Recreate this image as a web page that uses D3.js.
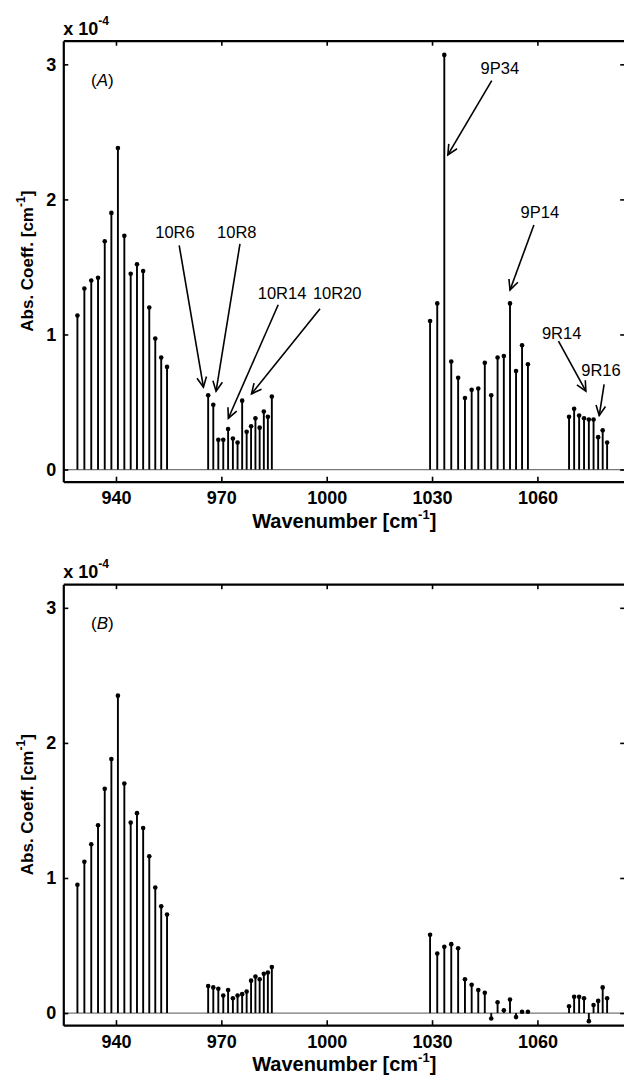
<!DOCTYPE html>
<html>
<head>
<meta charset="utf-8">
<script src="https://cdn.jsdelivr.net/npm/d3@7"></script>
<style>
  body { margin: 0; background: #fff; }
  svg { display: block; font-family: "Liberation Sans", Arial, sans-serif; }
</style>
</head>
<body>
<svg id="chart" width="624" height="1077"></svg>
<script>
// CO2 laser line positions (cm^-1)
const wn10P = [929.02, 931.00, 932.96, 934.89, 936.80, 938.69, 940.55, 942.38, 944.19, 945.98, 947.74, 949.48, 951.19, 952.88, 954.54]
const wn10R = [966.25, 967.71, 969.14, 970.55, 971.93, 973.29, 974.62, 975.93, 977.21, 978.47, 979.71, 980.91, 982.10, 983.25, 984.38]
const wn9P  = [1029.44, 1031.48, 1033.49, 1035.47, 1037.43, 1039.37, 1041.28, 1043.16, 1045.02, 1046.85, 1048.66, 1050.44, 1052.20, 1053.92, 1055.63, 1057.30]
const wn9R  = [1069.01, 1070.46, 1071.88, 1073.28, 1074.65, 1075.99, 1077.30, 1078.59, 1079.85]

// panel A, abs. coeff (x 1e-4 cm^-1)
const absA10P = [1.14, 1.34, 1.40, 1.42, 1.69, 1.90, 2.38, 1.73, 1.45, 1.52, 1.47, 1.20, 0.97, 0.83, 0.76]
const absA10R = [0.55, 0.48, 0.22, 0.22, 0.30, 0.23, 0.20, 0.51, 0.28, 0.32, 0.38, 0.31, 0.43, 0.39, 0.54]
const absA9P  = [1.10, 1.23, 3.07, 0.80, 0.68, 0.53, 0.59, 0.60, 0.79, 0.55, 0.83, 0.84, 1.23, 0.73, 0.92, 0.78]
const absA9R  = [0.39, 0.45, 0.40, 0.38, 0.37, 0.37, 0.24, 0.29, 0.20]

// panel B
const absB10P = [0.95, 1.12, 1.25, 1.39, 1.66, 1.88, 2.35, 1.70, 1.41, 1.48, 1.37, 1.16, 0.93, 0.79, 0.73]
const absB10R = [0.20, 0.19, 0.18, 0.13, 0.17, 0.11, 0.13, 0.14, 0.16, 0.24, 0.27, 0.25, 0.29, 0.30, 0.34]
const absB9P  = [0.58, 0.44, 0.49, 0.51, 0.48, 0.25, 0.21, 0.17, 0.15, -0.04, 0.08, 0.02, 0.10, -0.03, 0.01, 0.01]
const absB9R  = [0.05, 0.12, 0.12, 0.11, -0.06, 0.06, 0.09, 0.19, 0.11]

const xTicks = [940, 970, 1000, 1030, 1060]
const yTicks = [0, 1, 2, 3]

// arrow labels for panel A: text anchor, arrow tail, arrow head (data coords)
const labelsA = [
  { text: "10R6",  tx: 956.8,  ty: 1.76, x1: 958.0,  y1: 1.66, x2: 964.9,  y2: 0.61 },
  { text: "10R8",  tx: 974.4,  ty: 1.76, x1: 975.3,  y1: 1.67, x2: 968.5,  y2: 0.58 },
  { text: "10R14", tx: 987.3,  ty: 1.31, x1: 986.2,  y1: 1.22, x2: 972.0,  y2: 0.38 },
  { text: "10R20", tx: 1003.0, ty: 1.31, x1: 998.1,  y1: 1.19, x2: 978.6,  y2: 0.56 },
  { text: "9P34",  tx: 1049.3, ty: 2.97, x1: 1047.0, y1: 2.88, x2: 1034.5, y2: 2.33 },
  { text: "9P14",  tx: 1060.7, ty: 1.91, x1: 1059.0, y1: 1.81, x2: 1052.2, y2: 1.33 },
  { text: "9R14",  tx: 1066.9, ty: 1.01, x1: 1066.0, y1: 0.95, x2: 1073.8, y2: 0.58 },
  { text: "9R16",  tx: 1078.1, ty: 0.74, x1: 1079.0, y1: 0.63, x2: 1077.6, y2: 0.40 }
]

const svg = d3.select("#chart")
const x = d3.scaleLinear().domain([925, 1085]).range([63.3, 625.2])

function zip(wn, v) { return wn.map((w, i) => ({ wn: w, v: v[i] })) }

function drawPanel(top, data, tag, labels) {
  const y = d3.scaleLinear().domain([-0.09, 3.175]).range([top + 441, top])
  const g = svg.append("g")
  const x0 = x.range()[0], x1 = x.range()[1]
  const y0 = y.range()[0], y1 = y.range()[1]

  // zero line
  g.append("line")
    .attr("x1", x0).attr("x2", x1)
    .attr("y1", y(0)).attr("y2", y(0))
    .attr("stroke", "#777").attr("stroke-width", 1.2)

  // stems
  g.selectAll(".stem").data(data).join("line")
    .attr("x1", d => x(d.wn)).attr("x2", d => x(d.wn))
    .attr("y1", y(0)).attr("y2", d => y(d.v))
    .attr("stroke", "#000").attr("stroke-width", 1.9)
  g.selectAll(".dot").data(data).join("circle")
    .attr("cx", d => x(d.wn)).attr("cy", d => y(d.v))
    .attr("r", 2.3).attr("fill", "#000")

  // axes (ticks inward)
  const fmt = d3.format("d")
  const bottom = g.append("g").attr("transform", `translate(0,${y0})`)
    .call(d3.axisBottom(x).tickValues(xTicks).tickSize(-5).tickSizeOuter(0).tickPadding(10).tickFormat(fmt))
  const topAx = g.append("g").attr("transform", `translate(0,${y1})`)
    .call(d3.axisTop(x).tickValues(xTicks).tickSize(-5).tickSizeOuter(0).tickFormat(""))
  const left = g.append("g").attr("transform", `translate(${x0},0)`)
    .call(d3.axisLeft(y).tickValues(yTicks).tickSize(-5).tickSizeOuter(0).tickPadding(7).tickFormat(fmt))
  const right = g.append("g").attr("transform", `translate(${x1},0)`)
    .call(d3.axisRight(y).tickValues(yTicks).tickSize(-5).tickSizeOuter(0).tickFormat(""))

  ;[bottom, topAx, left, right].forEach(a => {
    a.select(".domain").attr("stroke-width", 2.2)
    a.selectAll(".tick line").attr("stroke-width", 1.6)
    a.selectAll("text").attr("font-size", 18).attr("font-weight", "bold")
      .attr("font-family", "Liberation Sans, Arial, sans-serif").attr("fill", "#000")
  })

  // scale factor
  const sf = svg.append("text").attr("x", x0).attr("y", y1 - 6)
    .attr("font-size", 18).attr("font-weight", "bold")
  sf.append("tspan").text("x 10")
  sf.append("tspan").attr("dy", -10).attr("font-size", 12).text("-4")

  // panel tag
  const pt = svg.append("text").attr("x", 91).attr("y", y1 + 45).attr("font-size", 17)
  pt.append("tspan").text("(")
  pt.append("tspan").attr("font-style", "italic").text(tag)
  pt.append("tspan").text(")")

  // axis titles
  const xl = svg.append("text").attr("x", (x0 + x1) / 2).attr("y", y0 + 46)
    .attr("text-anchor", "middle").attr("font-size", 20).attr("font-weight", "bold")
  xl.append("tspan").text("Wavenumber [cm")
  xl.append("tspan").attr("dy", -9).attr("font-size", 13).text("-1")
  xl.append("tspan").attr("dy", 9).text("]")

  const yl = svg.append("text")
    .attr("transform", `translate(33,${(y0 + y1) / 2}) rotate(-90)`)
    .attr("text-anchor", "middle").attr("font-size", 17).attr("font-weight", "bold")
  yl.append("tspan").text("Abs. Coeff. [cm")
  yl.append("tspan").attr("dy", -8).attr("font-size", 12).text("-1")
  yl.append("tspan").attr("dy", 8).text("]")

  // annotations
  labels.forEach(l => {
    svg.append("text").attr("x", x(l.tx)).attr("y", y(l.ty))
      .attr("text-anchor", "middle").attr("dominant-baseline", "central")
      .attr("font-size", 16.5).text(l.text)
    const ax1 = x(l.x1), ay1 = y(l.y1), ax2 = x(l.x2), ay2 = y(l.y2)
    const ang = Math.atan2(ay2 - ay1, ax2 - ax1)
    const len = 11, spread = 0.45
    svg.append("line").attr("x1", ax1).attr("y1", ay1).attr("x2", ax2).attr("y2", ay2)
      .attr("stroke", "#000").attr("stroke-width", 1.6)
    svg.append("path")
      .attr("d", `M${ax2 - len * Math.cos(ang - spread)},${ay2 - len * Math.sin(ang - spread)}`
        + `L${ax2},${ay2}`
        + `L${ax2 - len * Math.cos(ang + spread)},${ay2 - len * Math.sin(ang + spread)}`)
      .attr("fill", "none").attr("stroke", "#000").attr("stroke-width", 1.6)
  })
}

const dataA = [].concat(zip(wn10P, absA10P), zip(wn10R, absA10R), zip(wn9P, absA9P), zip(wn9R, absA9R))
const dataB = [].concat(zip(wn10P, absB10P), zip(wn10R, absB10R), zip(wn9P, absB9P), zip(wn9R, absB9R))

drawPanel(40.7, dataA, "A", labelsA)
drawPanel(584.2, dataB, "B", [])
</script>
</body>
</html>
